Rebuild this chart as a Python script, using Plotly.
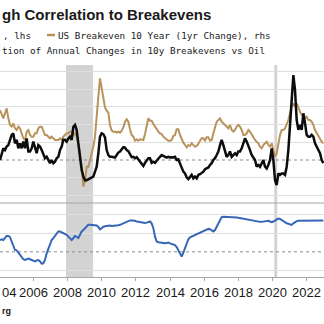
import numpy as np
import plotly.graph_objects as go

# Time axis in decimal years, sampled about every five weeks
t_start = 2004.0585
t_step = 0.09747

# WTI crude oil, 1yr % change (lhs)
oil_yoy = [
    0, 14, 33, 28, 38, 42, 57, 71, 75, 47, 57, 33, 47, 33, 52, 33, 61, 24, 24, 33,
    52, 33, 19, 42, 38, 28, 14, 5, 9, 0, -9, 0, -9, -5, 5, 9, 28, 38, 57, 57,
    52, 61, 66, 57, 94, 99, 85, 47, 0, -28, -47, -57, -57, -55, -52, -49, -47, -33, -19, 19,
    66, 75, 73, 64, 28, 14, 9, 9, 9, 7, 14, 21, 24, 30, 36, 35, 28, 25, 14, 8,
    9, 5, 8, 2, -5, -9, -17, -8, 0, 5, 5, -8, -5, -8, -2, 5, 9, 14, 12, 9,
    7, 9, 7, 8, 7, 9, 0, 2, -11, -19, -33, -38, -49, -54, -49, -42, -52, -47, -52, -42,
    -40, -36, -33, -26, -24, -21, -14, -9, 0, 5, 14, 24, 42, 57, 42, 24, 9, 14, 24, 9,
    14, 19, 14, 24, 24, 33, 47, 61, 52, 42, 28, 14, 5, 0, -19, -14, -19, -9, 0, -19,
    -24, -14, 0, 33, 0, -57, -71, -38, -42, -38, -38, -42, -19, 28, 94, 170, 240, 198, 113, 85,
    99, 85, 132, 104, 71, 66, 66, 71, 66, 47, 38, 28, 19, 0, -9,
]

# US breakeven 10 year, 1yr change in percentage points (rhs)
be10_yoy = [
    0.96, 0.81, 0.71, 0.86, 1.01, 0.71, 0.51, 0.46, 0.56, 0.41, 0.36, 0.46, 0.41, 0.26, 0.11, 0.06, 0.31, 0.36, 0.21, 0.16,
    0.16, 0.26, 0.26, 0.41, 0.46, 0.46, 0.31, 0.21, 0.21, 0.16, 0.11, 0.16, 0.11, 0.06, 0.06, 0.06, 0.11, 0.06, 0.16, 0.21,
    0.26, 0.26, 0.31, 0.31, 0.21, 0.26, 0.16, -0.09, -0.34, -0.74, -1.34, -1.19, -0.74, -0.74, -0.54, -0.34, -0.14, 0.16, 0.66, 1.36,
    1.91, 1.61, 1.26, 1.04, 0.94, 0.88, 0.51, 0.34, 0.31, 0.31, 0.28, 0.31, 0.28, 0.34, 0.44, 0.61, 0.68, 0.61, 0.38, 0.21,
    0.16, 0.04, 0.08, 0.04, 0.08, 0.06, 0.06, 0.24, 0.54, 0.71, 0.64, 0.64, 0.54, 0.46, 0.36, 0.31, 0.26, 0.24, 0.16, 0.11,
    0.06, 0.04, 0.04, 0.06, 0.18, 0.21, 0.38, 0.38, 0.21, 0.06, -0.02, -0.09, -0.16, -0.09, -0.12, -0.04, -0.09, -0.14, -0.12, -0.06,
    0.04, 0.11, 0.11, 0.04, 0.14, 0.14, 0.04, 0.06, 0.26, 0.46, 0.61, 0.66, 0.71, 0.61, 0.56, 0.51, 0.46, 0.41, 0.51, 0.36,
    0.31, 0.36, 0.46, 0.51, 0.46, 0.36, 0.21, 0.21, 0.26, 0.36, 0.31, 0.21, 0.11, 0.06, 0.01, -0.04, -0.14, -0.19, -0.09, -0.04,
    0.01, -0.09, -0.14, -0.04, -0.24, -0.44, -0.34, -0.04, 0.21, 0.36, 0.36, 0.41, 0.51, 0.66, 0.86, 1.06, 1.16, 1.06, 1.16, 1.01,
    0.91, 0.81, 0.81, 0.71, 0.76, 0.66, 0.66, 0.61, 0.51, 0.36, 0.26, 0.16, 0.06, 0.01, -0.04,
]

# Rolling correlation of annual changes, 10y breakevens vs oil
corr = [
    0.32, 0.34, 0.32, 0.37, 0.43, 0.43, 0.40, 0.28, 0.14, 0.05, 0.04, -0.02, -0.08, -0.13, -0.20, -0.22, -0.19, -0.18, -0.20, -0.22,
    -0.24, -0.26, -0.23, -0.22, -0.26, -0.32, -0.31, -0.22, -0.04, 0.10, 0.23, 0.32, 0.37, 0.43, 0.50, 0.55, 0.55, 0.53, 0.50, 0.48,
    0.46, 0.41, 0.37, 0.32, 0.37, 0.43, 0.40, 0.37, 0.46, 0.55, 0.59, 0.64, 0.68, 0.73, 0.73, 0.73, 0.73, 0.72, 0.71, 0.67,
    0.61, 0.64, 0.68, 0.69, 0.70, 0.71, 0.71, 0.70, 0.70, 0.71, 0.71, 0.72, 0.73, 0.75, 0.77, 0.79, 0.82, 0.84, 0.85, 0.85,
    0.85, 0.84, 0.82, 0.81, 0.79, 0.78, 0.77, 0.78, 0.79, 0.81, 0.82, 0.77, 0.64, 0.41, 0.28, 0.26, 0.25, 0.25, 0.24, 0.23,
    0.24, 0.25, 0.23, 0.22, 0.19, 0.18, 0.13, 0.05, -0.06, -0.13, -0.02, 0.10, 0.27, 0.34, 0.39, 0.41, 0.43, 0.46, 0.49, 0.50,
    0.52, 0.54, 0.56, 0.59, 0.61, 0.62, 0.61, 0.57, 0.55, 0.59, 0.68, 0.77, 0.86, 0.94, 0.95, 0.95, 0.95, 0.95, 0.95, 0.95,
    0.94, 0.94, 0.93, 0.92, 0.91, 0.90, 0.90, 0.89, 0.88, 0.86, 0.85, 0.84, 0.83, 0.82, 0.81, 0.81, 0.81, 0.81, 0.82, 0.83,
    0.84, 0.84, 0.82, 0.80, 0.82, 0.85, 0.88, 0.90, 0.89, 0.86, 0.82, 0.79, 0.77, 0.76, 0.75, 0.73, 0.77, 0.81, 0.83, 0.84,
    0.84, 0.85, 0.85, 0.86, 0.86, 0.86, 0.86, 0.86, 0.86, 0.85, 0.85, 0.85, 0.85, 0.85, 0.85,
]

# Recession periods (decimal years)
recessions = [(2007.92, 2009.50), (2020.10, 2020.27)]

year_ticks = list(range(2004, 2023, 2))
year_labels = ["04"] + [str(y) for y in year_ticks[1:]]
title_text = "gh Correlation to Breakevens"
legend_oil_tail = ", lhs"
legend_be = "US Breakeven 10 Year (1yr Change), rhs"
legend_corr = "tion of Annual Changes in 10y Breakevens vs Oil"
source_text = "rg"

t = t_start + t_step * np.arange(len(oil_yoy))

W = H = 324
BLACK = "#0d0d0d"
GOLD = "#b9935c"
BLUE = "#3766b8"
GRID = "#dedede"
TITLE_FONT = "Liberation Sans"
LEGEND_FONT = "DejaVu Sans Mono"
TICK_FONT = "Liberation Sans Narrow, Liberation Sans"

x_per_year = 17.1  # pixel width of one year on the time axis


def py(px):
    """Pixel row (from top) to paper fraction."""
    return 1 - px / H


def pxx(px):
    """Pixel column to paper fraction."""
    return px / W


top_upper, bot_upper, bot_lower = 65, 203, 277
x_range = [t_start, 2004 + 325 / x_per_year]

fig = go.Figure()

fig.add_trace(go.Scatter(x=t, y=be10_yoy, xaxis="x", yaxis="y",
                         mode="lines", line=dict(color=GOLD, width=2), hoverinfo="skip"))
fig.add_trace(go.Scatter(x=t, y=oil_yoy, xaxis="x", yaxis="y2",
                         mode="lines", line=dict(color=BLACK, width=2.5), hoverinfo="skip"))
fig.add_trace(go.Scatter(x=t, y=corr, xaxis="x", yaxis="y3",
                         mode="lines", line=dict(color=BLUE, width=2), hoverinfo="skip"))

shapes = []
for a, b in recessions:
    shapes.append(dict(type="rect", xref="x", yref="paper", x0=a, x1=b,
                       y0=py(bot_lower), y1=py(top_upper),
                       fillcolor="#d3d3d3", line=dict(width=0), layer="below"))
# dashed zero lines
shapes.append(dict(type="line", xref="paper", yref="y2", x0=0, x1=1, y0=0, y1=0,
                   line=dict(color="#8c8c8c", width=1, dash="3px,3px"), layer="below"))
shapes.append(dict(type="line", xref="paper", yref="y3", x0=0, x1=1, y0=0, y1=0,
                   line=dict(color="#8c8c8c", width=1, dash="3px,3px"), layer="below"))
# panel separator
shapes.append(dict(type="line", xref="paper", yref="paper", x0=0, x1=1,
                   y0=py(bot_upper), y1=py(bot_upper),
                   line=dict(color="#a6a6a6", width=1), layer="below"))
# legend swatch
shapes.append(dict(type="line", xref="paper", yref="paper", x0=pxx(47), x1=pxx(55),
                   y0=py(35), y1=py(35), line=dict(color=GOLD, width=2.5)))

annotations = [
    dict(text=f"<b>{title_text}</b>", x=0, y=py(15), xref="paper", yref="paper",
         xanchor="left", yanchor="middle", showarrow=False,
         font=dict(family=TITLE_FONT, size=15, color="#1a1a1a")),
    dict(text=legend_oil_tail, x=pxx(1), y=py(35), xref="paper", yref="paper",
         xanchor="left", yanchor="middle", showarrow=False,
         font=dict(family=LEGEND_FONT, size=9.3, color="#1a1a1a")),
    dict(text=legend_be, x=pxx(56), y=py(35), xref="paper", yref="paper",
         xanchor="left", yanchor="middle", showarrow=False,
         font=dict(family=LEGEND_FONT, size=9.3, color="#1a1a1a")),
    dict(text=legend_corr, x=0, y=py(50), xref="paper", yref="paper",
         xanchor="left", yanchor="middle", showarrow=False,
         font=dict(family=LEGEND_FONT, size=9.3, color="#1a1a1a")),
    dict(text=f"<b>{source_text}</b>", x=0, y=py(311), xref="paper", yref="paper",
         xanchor="left", yanchor="middle", showarrow=False,
         font=dict(family=TITLE_FONT, size=9, color="#1a1a1a")),
]

# year labels under each year tick; the first one is trimmed at the left edge
for yr, lab in zip(year_ticks, year_labels):
    if yr == year_ticks[0]:
        pos, anchor = 0, "left"
    else:
        pos, anchor = pxx((yr - 2004) * x_per_year - 1), "center"
    annotations.append(dict(text=lab, x=pos, y=py(292),
                            xref="paper", yref="paper", xanchor=anchor, yanchor="middle",
                            showarrow=False,
                            font=dict(family=TICK_FONT, size=13, color="#1a1a1a")))

fig.update_layout(
    width=W, height=H,
    margin=dict(l=0, r=0, t=0, b=0),
    paper_bgcolor="white", plot_bgcolor="white",
    showlegend=False,
    shapes=shapes, annotations=annotations,
    xaxis=dict(range=x_range, anchor="y3", showgrid=False, zeroline=False,
               tickmode="array", tickvals=year_ticks, showticklabels=False,
               ticks="outside", ticklen=3, tickcolor="#a6a6a6",
               showline=True, linecolor="#a6a6a6", linewidth=1),
    # rhs: breakeven change
    yaxis=dict(domain=[py(bot_upper), py(top_upper)], range=[-1.83, 2.31],
               showgrid=False, zeroline=False, showticklabels=False),
    # lhs: oil change
    yaxis2=dict(domain=[py(bot_upper), py(top_upper)], overlaying="y",
                range=[-121.5, 268.4], tickmode="array",
                tickvals=[-100, -50, 50, 100, 150, 200, 250],
                showgrid=True, gridcolor=GRID, gridwidth=1,
                zeroline=False, showticklabels=False),
    yaxis3=dict(domain=[py(bot_lower), py(bot_upper)], range=[-0.68, 1.32],
                tickmode="array", tickvals=[-0.5, 0.5, 1.0],
                showgrid=True, gridcolor=GRID, gridwidth=1,
                zeroline=False, showticklabels=False),
)

fig.write_html("out.html")
